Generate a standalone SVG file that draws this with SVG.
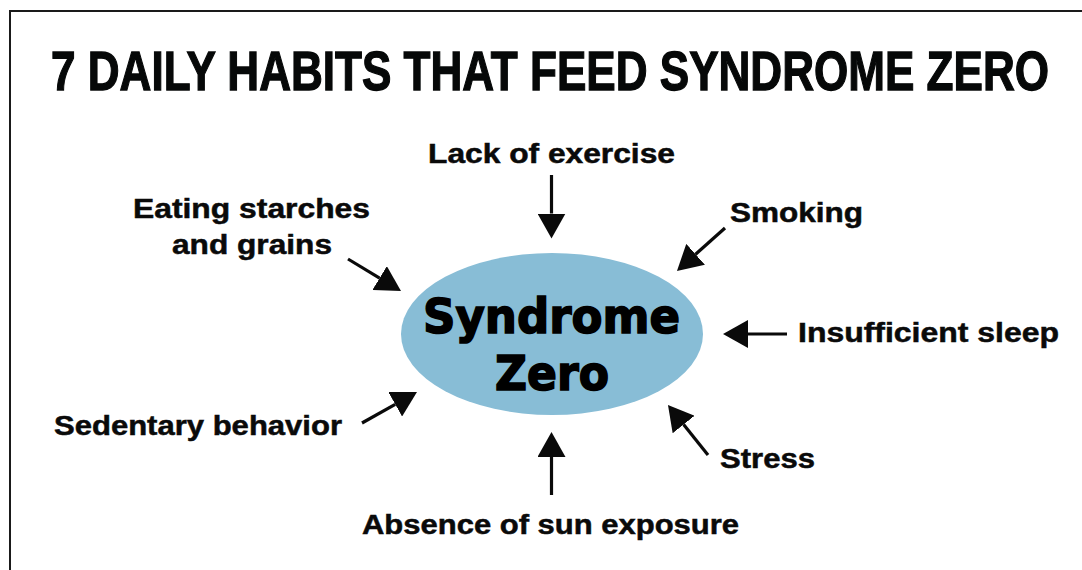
<svg xmlns="http://www.w3.org/2000/svg" width="1082" height="570" viewBox="0 0 1082 570">
<style>
.title{font-family:"Liberation Sans Narrow","Liberation Sans",Arial,sans-serif;font-weight:700;font-size:56px;fill:#060808;stroke:#060808;stroke-width:1.3}
.lbl{font-family:"Liberation Sans",Arial,sans-serif;font-weight:700;font-size:27px;fill:#0a0a0a;stroke:#0a0a0a;stroke-width:0.5}
.core{font-family:"DejaVu Sans","Liberation Sans",sans-serif;font-weight:700;font-size:48px;fill:#000;stroke:#000;stroke-width:1.6}
.arr{stroke:#0a0a0a;stroke-width:3.2;fill:none}
</style>
<defs>
<marker id="ah" viewBox="0 0 25 28" refX="0" refY="14" markerWidth="25" markerHeight="28" markerUnits="userSpaceOnUse" orient="auto">
<path d="M0,0 L25,14 L0,28 Z" fill="#0a0a0a"/>
</marker>
</defs>
<rect x="0" y="0" width="1082" height="570" fill="#fff"/>
<rect x="10" y="11" width="1100" height="600" fill="none" stroke="#1a1a1a" stroke-width="2"/>
<text class="title" x="51" y="90" textLength="998" lengthAdjust="spacingAndGlyphs">7 DAILY HABITS THAT FEED SYNDROME ZERO</text>
<g id="center">
<ellipse cx="552" cy="334" rx="151" ry="81" fill="#88BDD6"/>
<text class="core" x="423" y="333" textLength="257" lengthAdjust="spacingAndGlyphs">Syndrome</text>
<text class="core" x="495" y="390" textLength="114" lengthAdjust="spacingAndGlyphs">Zero</text>
</g>
<g id="lack"><text class="lbl" x="428" y="163" textLength="247" lengthAdjust="spacingAndGlyphs">Lack of exercise</text></g>
<g id="eating"><text class="lbl" x="133" y="218" textLength="237" lengthAdjust="spacingAndGlyphs">Eating starches</text><text class="lbl" x="172" y="254" textLength="160" lengthAdjust="spacingAndGlyphs">and grains</text></g>
<g id="smoking"><text class="lbl" x="730" y="222" textLength="133" lengthAdjust="spacingAndGlyphs">Smoking</text></g>
<g id="sleep"><text class="lbl" x="798" y="342" textLength="261" lengthAdjust="spacingAndGlyphs">Insufficient sleep</text></g>
<g id="stress"><text class="lbl" x="720" y="468" textLength="95" lengthAdjust="spacingAndGlyphs">Stress</text></g>
<g id="sun"><text class="lbl" x="362" y="534" textLength="377" lengthAdjust="spacingAndGlyphs">Absence of sun exposure</text></g>
<g id="sedentary"><text class="lbl" x="54" y="435" textLength="288" lengthAdjust="spacingAndGlyphs">Sedentary behavior</text></g>
<g id="connectors">
<path class="arr" d="M551.5,175 L551.5,213.5" marker-end="url(#ah)"/>
<path class="arr" d="M348,259 L379.6,278.1" marker-end="url(#ah)"/>
<path class="arr" d="M725,228 L695.6,254.3" marker-end="url(#ah)"/>
<path class="arr" d="M787,334 L748,334" marker-end="url(#ah)"/>
<path class="arr" d="M708,455 L683.6,424.5" marker-end="url(#ah)"/>
<path class="arr" d="M551.5,495 L551.5,457" marker-end="url(#ah)"/>
<path class="arr" d="M362,423 L395.2,404.3" marker-end="url(#ah)"/>
</g>
</svg>
